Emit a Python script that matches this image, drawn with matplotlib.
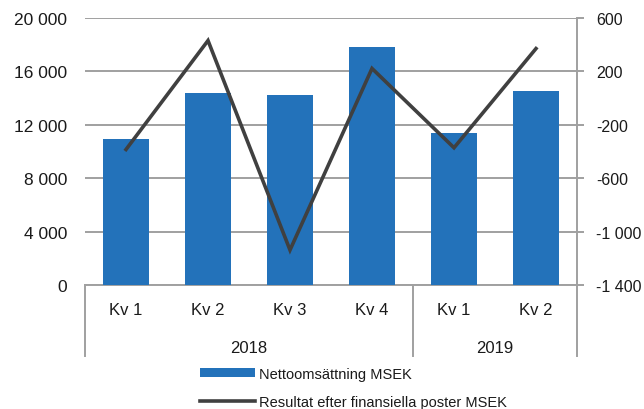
import matplotlib
matplotlib.use("Agg")
import matplotlib.pyplot as plt
from matplotlib.lines import Line2D
from matplotlib.patches import Patch

plt.rcParams['font.family'] = ['Liberation Sans', 'DejaVu Sans']

quarters = ["Kv 1", "Kv 2", "Kv 3", "Kv 4", "Kv 1", "Kv 2"]
years = ["2018", "2019"]
year_counts = [4, 2]
net_sales = [10900, 14360, 14200, 17800, 11360, 14530]
result = [-385, 431, -1138, 222, -372, 371]
left_ticks = [0, 4000, 8000, 12000, 16000, 20000]
right_ticks = [-1400, -1000, -600, -200, 200, 600]

def fmt(v):
    s = f"{abs(v):,}".replace(",", " ")
    return ("-" if v < 0 else "") + s

bar_color = "#2372BA"
line_color = "#404040"
grid_color = "#A0A0A0"
text_color = "#1a1a1a"
fs = 12.5

fig = plt.figure(figsize=(6.44, 4.10), dpi=100)
ax = fig.add_axes([85/644, 1-286/410, (577-85)/644, (286-19)/410])
x = list(range(len(quarters)))
ax.bar(x, net_sales, width=0.56, color=bar_color, zorder=3)
ax.set_xlim(-0.5, len(quarters)-0.5)
ax.set_ylim(0, 20000)
ax.set_yticks(left_ticks)
ax.set_yticklabels([fmt(v) for v in left_ticks])
ax.yaxis.grid(True, color=grid_color, linewidth=1.4, zorder=0)
ax.tick_params(axis='y', length=0, pad=13, labelsize=fs, labelcolor=text_color)
ax.set_xticks([])
for s in ["left", "top", "right"]:
    ax.spines[s].set_visible(False)
ax.spines["bottom"].set_color(grid_color)
ax.spines["bottom"].set_linewidth(1.4)

ax2 = ax.twinx()
ax2.plot(x, result, color=line_color, linewidth=2.6, zorder=5, solid_joinstyle='miter')
ax2.set_ylim(-1400, 600)
ax2.set_yticks(right_ticks)
ax2.set_yticklabels([fmt(v) for v in right_ticks])
ax2.tick_params(axis='y', length=5, width=1.4, color=grid_color, pad=9, labelsize=11.5, labelcolor=text_color)
for s in ["left", "top", "bottom"]:
    ax2.spines[s].set_visible(False)
ax2.spines["right"].set_color(grid_color)
ax2.spines["right"].set_linewidth(1.4)

# category labels
trans = ax.get_xaxis_transform()
h = (286-19)
kv_y = -(311-286)/h
yr_y = -(349-286)/h
sep_bottom = -(357-286)/h
for xi, q in zip(x, quarters):
    ax.text(xi, kv_y, q, transform=trans, ha="center", va="center", fontsize=12, color=text_color)
start = 0
seps = [-0.5]
for yr, n in zip(years, year_counts):
    ax.text(start + (n-1)/2, yr_y, yr, transform=trans, ha="center", va="center", fontsize=12, color=text_color)
    start += n
    seps.append(start - 0.5)
for sx in seps:
    ax.add_line(Line2D([sx, sx], [0, sep_bottom], transform=trans, color=grid_color,
                       linewidth=1.4, clip_on=False))

handles = [Patch(facecolor=bar_color, edgecolor="none"),
           Line2D([0], [0], color=line_color, linewidth=2.6)]
labels = ["Nettoomsättning MSEK", "Resultat efter finansiella poster MSEK"]
fig.legend(handles, labels, loc="upper left", bbox_to_anchor=(200/644, 1-368/410),
           frameon=False, fontsize=10.5, handlelength=3.8, handleheight=0.6,
           labelspacing=0.95, handletextpad=0.25, borderaxespad=0, borderpad=0,
           labelcolor=text_color)

fig.savefig("out.png", dpi=100)
